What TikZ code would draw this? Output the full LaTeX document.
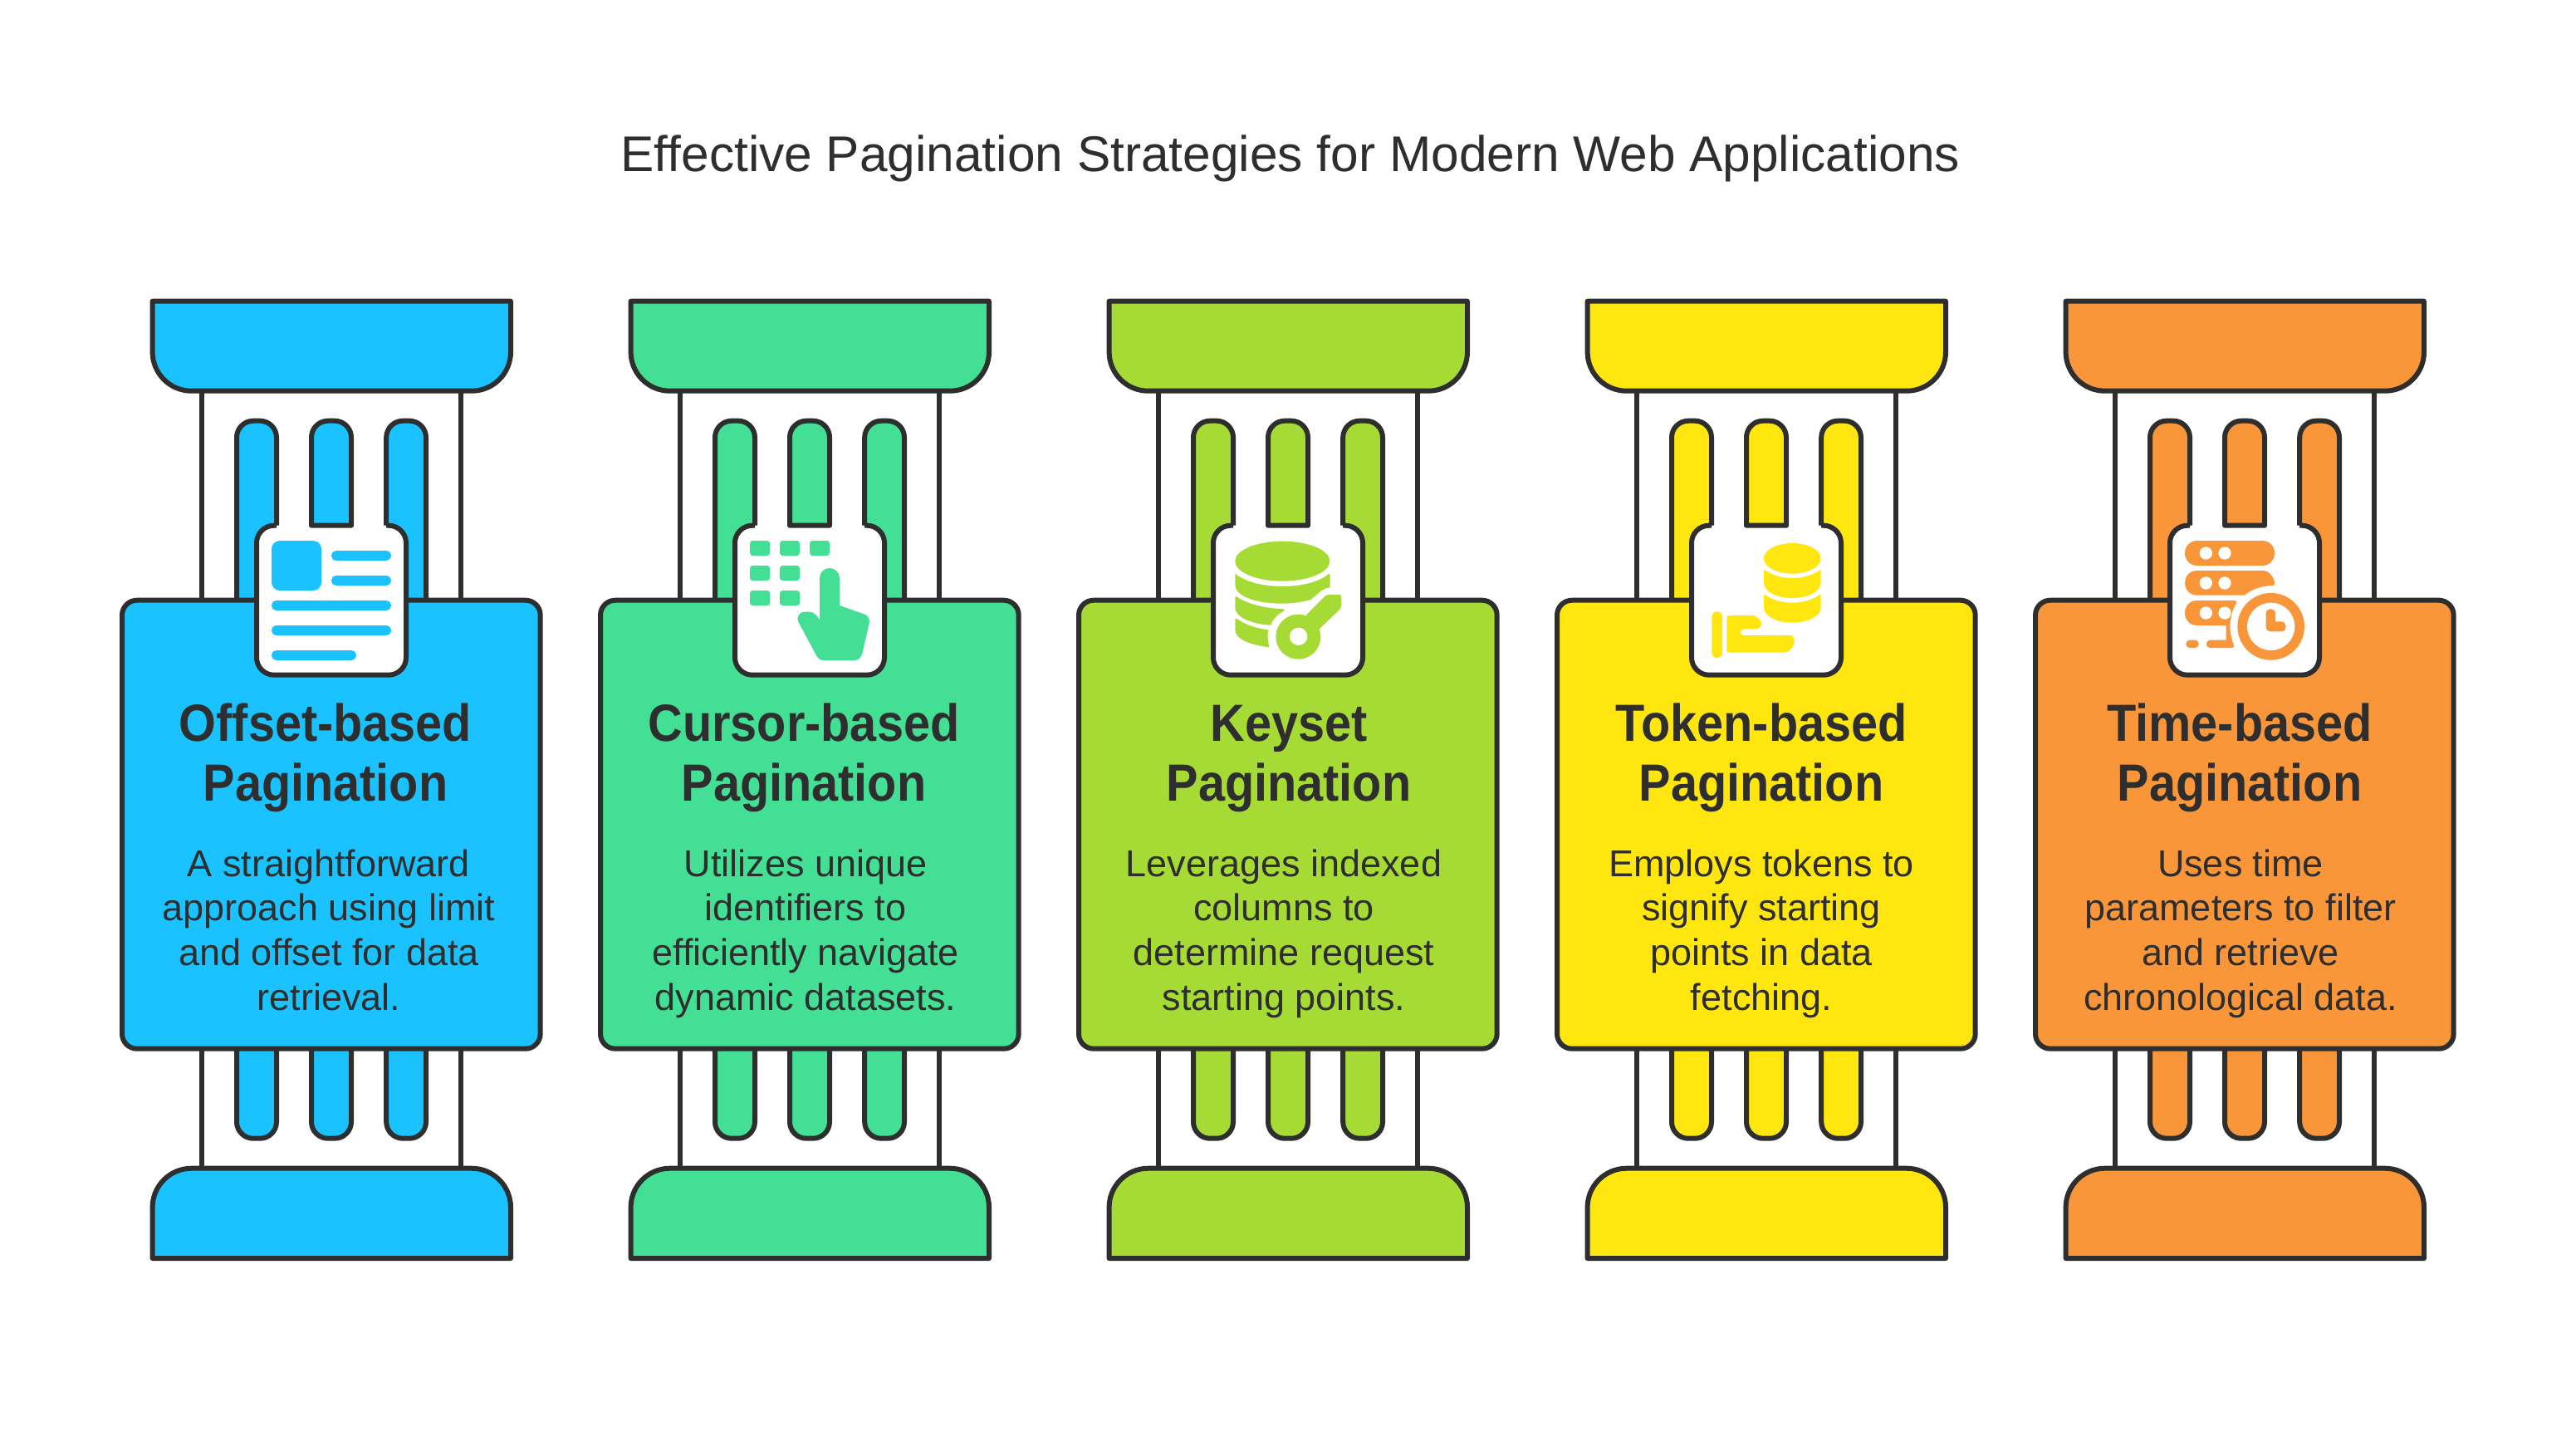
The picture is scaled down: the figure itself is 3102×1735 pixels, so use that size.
\documentclass[tikz,border=0pt]{standalone}
\usepackage{fontspec}
\setmainfont{Liberation Sans}
\newfontfamily\headfont[FakeStretch=0.915]{Liberation Sans}
\definecolor{ink}{HTML}{2E2E2E}
\definecolor{cblue}{HTML}{1AC3FF}
\definecolor{cgreen}{HTML}{43DF95}
\definecolor{clime}{HTML}{A6DB35}
\definecolor{cyellow}{HTML}{FFE60F}
\definecolor{corange}{HTML}{F9963A}
\tikzset{
  part/.style={draw=ink,line width=3pt,line join=round},
  headtext/.style={align=center,inner sep=0pt,text=ink,font=\fontsize{31.5}{36}\headfont\bfseries},
  bodytext/.style={align=center,inner sep=0pt,text=ink,font=\fontsize{22.5}{26.85}\selectfont},
  titletext/.style={inner sep=0pt,text=ink,anchor=base,font=\fontsize{30.2}{36}\selectfont},
  iconzoom/.style={x=0.16667pt,y=-0.16667pt}
}
\newcommand{\pillar}[2]{%
\begin{scope}[xshift=#2*0.5pt]
  \fill[white] (243.2,470.7) rectangle (555,1406.7);
  \draw[part] (243.2,470.7) -- (243.2,1406.7) (555,470.7) -- (555,1406.7);
  % top cap
  \draw[part,fill=#1] (183.6,362.7) -- (615,362.7) [rounded corners=23.5pt] -- (615,470.7) -- (183.6,470.7) [sharp corners] -- cycle;
  % bottom cap
  \draw[part,fill=#1] (183.6,1515) -- (615,1515) [rounded corners=23.5pt] -- (615,1406.7) -- (183.6,1406.7) [sharp corners] -- cycle;
  % flutes upper
  \foreach \a/\b in {285/333,465.2/513}{
    \draw[part,fill=#1] (\a,760) [rounded corners=10pt] -- (\a,506.7) -- (\b,506.7) [sharp corners] -- (\b,760);
  }
  % flutes lower
  \foreach \a/\b in {285/333,375/423,465.2/513}{
    \draw[part,fill=#1] (\a,1250) [rounded corners=10pt] -- (\a,1370.7) -- (\b,1370.7) [sharp corners] -- (\b,1250);
  }
  % card
  \draw[part,fill=#1,rounded corners=9pt] (147,722.7) rectangle (650.7,1262.7);
  % icon plate
  \draw[part,fill=white] (333,632.7) [rounded corners=10.5pt] -- (309,632.7) -- (309,812.7) -- (489,812.7) -- (489,632.7) [sharp corners] -- (465.2,632.7);
  % middle flute
  \draw[part,fill=#1] (375,632.7) [rounded corners=10pt] -- (375,506.7) -- (423,506.7) [sharp corners] -- (423,632.7) -- cycle;
\end{scope}}
\begin{document}
\begin{tikzpicture}[x=0.5pt,y=-0.5pt]
\useasboundingbox (0,0) rectangle (3102,1735);
\fill[white] (0,0) rectangle (3102,1735);
\node[titletext] (title) at (1554,206) {Effective Pagination Strategies for Modern Web Applications};
\pillar{cblue}{0}
\pillar{cgreen}{576}
\pillar{clime}{1152}
\pillar{cyellow}{1728}
\pillar{corange}{2304}

% icon 1
\begin{scope}[shift={(290,620)},iconzoom]
  \fill[cblue,rounded corners=30*0.16667pt] (111,93) rectangle (291,273);
  \foreach \a/\b/\c in {327/543/129,327/543/219,111/543/309,111/543/399,111/417/489}{
    \fill[cblue,rounded corners=17*0.16667pt] (\a,\c) rectangle (\b,\c+36);
  }
\end{scope}
% icon 2
\begin{scope}[shift={(860,620)},iconzoom]
  \foreach \a/\c in {129/93,237/93,345/93,129/183,237/183,129/273,237/273}{
    \fill[cgreen,rounded corners=10*0.16667pt] (\a,\c) rectangle (\a+72,\c+54);
  }
  \fill[cgreen] (381,228) arc[start angle=180,end angle=0,radius=36*0.16667pt] -- (453,327) -- (541,358)
    .. controls (556,363) and (563,375) .. (560,392) -- (535,500)
    .. controls (531,516) and (520,525) .. (505,525) -- (398,525)
    .. controls (385,525) and (376,520) .. (370,509) -- (304,386)
    .. controls (296,370) and (306,351) .. (328,350) -- (345,350)
    .. controls (360,351) and (370,362) .. (381,378) -- cycle;
\end{scope}
% icon 3
\begin{scope}[shift={(1450,620)},iconzoom]
  \fill[clime] (283,167) ellipse[x radius=171*0.16667pt,y radius=72*0.16667pt];
  \fill[clime] (112,212) .. controls (150,243) and (215,258) .. (283,258) .. controls (350,258) and (415,243) .. (450,213) -- (455,215) -- (455,262)
     .. controls (425,265) and (412,285) .. (385,306) .. controls (350,316) and (315,320) .. (283,320) .. controls (190,320) and (112,295) .. (112,252) -- cycle;
  \fill[clime] (112,295) -- (118,295) .. controls (155,322) and (220,337) .. (288,340) -- (290,346) .. controls (265,358) and (250,375) .. (240,398)
     .. controls (175,395) and (112,370) .. (112,335) -- cycle;
  \fill[clime] (112,375) -- (118,375) .. controls (150,397) and (190,410) .. (232,415) .. controls (228,435) and (230,458) .. (235,478)
     .. controls (170,470) and (112,450) .. (112,415) -- cycle;
  \fill[clime] (340,440) circle[radius=81*0.16667pt];
  \fill[clime] (368,362) -- (438,292) .. controls (441,289) and (444,288) .. (448,288) -- (488,288) .. controls (493,288) and (495,291) .. (495,295) -- (495,330) .. controls (495,335) and (493,338) .. (490,341) -- (416,412) -- cycle;
  \fill[white] (341,439) circle[radius=32*0.16667pt];
\end{scope}
% icon 4
\begin{scope}[shift={(2030,620)},iconzoom]
  \fill[cyellow] (385,157) ellipse[x radius=103*0.16667pt,y radius=55*0.16667pt];
  \foreach \d in {0,89}{
    \fill[cyellow] (282,200+\d) -- (288,200+\d) .. controls (315,220+\d) and (350,228+\d) .. (385,228+\d) .. controls (420,228+\d) and (455,220+\d) .. (482,200+\d) -- (488,200+\d) -- (488,245+\d)
      .. controls (488,277+\d) and (440,300+\d) .. (385,300+\d) .. controls (330,300+\d) and (282,277+\d) .. (282,245+\d) -- cycle;
  }
  \fill[cyellow,rounded corners=18*0.16667pt] (94,349) rectangle (132,516);
  \fill[cyellow] (148,372) .. controls (148,366) and (151,363) .. (157,363) -- (235,363)
    .. controls (258,363) and (273,380) .. (273,393) .. controls (273,405) and (265,412) .. (250,412) -- (210,412)
    .. controls (194,412) and (194,435) .. (210,435) -- (375,435)
    .. controls (388,435) and (392,445) .. (392,456) .. controls (392,475) and (375,497) .. (355,497) -- (157,497)
    .. controls (151,497) and (148,494) .. (148,488) -- cycle;
\end{scope}
% icon 5
\begin{scope}[shift={(2610,620)},iconzoom]
  \fill[corange,rounded corners=44*0.16667pt] (63,93) rectangle (387,183);
  \fill[corange] (108,201) -- (345,201) .. controls (368,201) and (387,228) .. (387,248) .. controls (387,252) and (385,255) .. (380,255)
     .. controls (340,256) and (305,268) .. (278,290) -- (108,290) .. controls (48,290) and (48,201) .. (108,201) -- cycle;
  \fill[corange] (108,309) -- (243,309) .. controls (250,309) and (252,315) .. (248,320) .. controls (235,340) and (228,370) .. (226,399)
     .. controls (226,425) and (232,450) .. (240,472) .. controls (241,477) and (238,480) .. (233,480) -- (154,480)
     .. controls (136,480) and (136,452) .. (154,452) -- (212,452) -- (212,399) -- (108,399) .. controls (48,399) and (48,309) .. (108,309) -- cycle;
  \fill[corange,rounded corners=13*0.16667pt] (67,452) rectangle (113,480);
  \foreach \a/\c in {139/138,207/138,139/246,207/246,139/354,207/354}{
    \fill[white] (\a,\c) circle[radius=23*0.16667pt];
  }
  \fill[corange] (374,403) circle[radius=121*0.16667pt];
  \fill[white] (374,403) circle[radius=86*0.16667pt];
  \fill[corange] (356,356) .. controls (356,334) and (390,334) .. (390,356) -- (390,385) -- (410,385) .. controls (434,385) and (434,421) .. (410,421) -- (375,421) .. controls (363,421) and (356,414) .. (356,403) -- cycle;
\end{scope}

\node[headtext] (h1) at (392,914.5) {\strut Offset-based\\Pagination\strut};
\node[headtext] (h2) at (968,914.5) {\strut Cursor-based\\Pagination\strut};
\node[headtext] (h3) at (1552,914.5) {\strut Keyset\\Pagination\strut};
\node[headtext] (h4) at (2121,914.5) {\strut Token-based\\Pagination\strut};
\node[headtext] (h5) at (2697,914.5) {\strut Time-based\\Pagination\strut};
\node[bodytext] (b1) at (396,1124.8) {\strut A straightforward\\approach using limit\\and offset for data\\retrieval.\strut};
\node[bodytext] (b2) at (970,1124.8) {\strut Utilizes unique\\identifiers to\\efficiently navigate\\dynamic datasets.\strut};
\node[bodytext] (b3) at (1546,1124.8) {\strut Leverages indexed\\columns to\\determine request\\starting points.\strut};
\node[bodytext] (b4) at (2121,1124.8) {\strut Employs tokens to\\signify starting\\points in data\\fetching.\strut};
\node[bodytext] (b5) at (2698,1124.8) {\strut Uses time\\parameters to filter\\and retrieve\\chronological data.\strut};
\end{tikzpicture}
\end{document}
